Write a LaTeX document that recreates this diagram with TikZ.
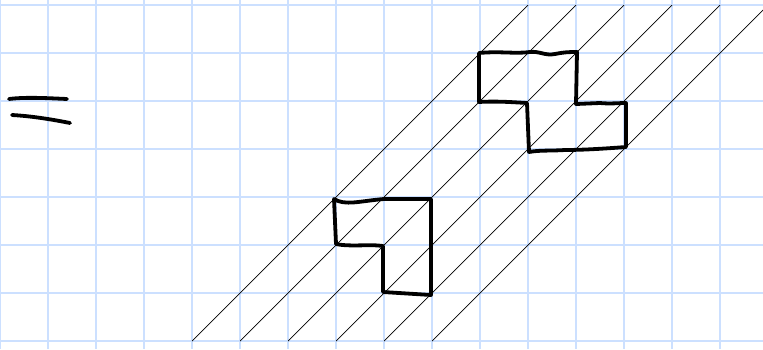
\documentclass[tikz,border=0pt]{standalone}
\definecolor{gridblue}{RGB}{204,224,255}
\begin{document}
\begin{tikzpicture}[x=1pt,y=-1pt,
  gridline/.style={draw=gridblue, line width=2pt},
  hatch/.style={draw=black, line width=0.7pt},
  ink/.style={draw=black, line width=3.8pt, line cap=round, line join=round}]
\useasboundingbox (0,0) rectangle (763,349);
\fill[white] (0,0) rectangle (763,349);
\begin{scope}
  \clip (0,0) rectangle (763,349);
  \foreach \x in {0,48,...,720} \draw[gridline] (\x,0) -- (\x,349);
  \foreach \y in {5,53,...,341} \draw[gridline] (0,\y) -- (763,\y);
  \foreach \x in {192,240,...,432} \draw[hatch] (\x,341) -- ++(336,-336);
\end{scope}
% equals sign
\draw[ink] (9,99) .. controls (25,97) and (45,98) .. (67,99);
\draw[ink] (12,115) .. controls (30,116) and (50,119) .. (70,123);
% lower L shape
\draw[ink] (334,199) .. controls (345,206) and (360,201) .. (384,199) -- (428,199)
  -- (431,199) -- (431,295) -- (383,292) -- (383,246)
  .. controls (370,244) and (350,247) .. (336,244) -- cycle;
% upper shape
\draw[ink] (479,53) .. controls (500,51) and (515,54) .. (530,52)
  .. controls (540,51) and (545,56) .. (555,54)
  .. controls (565,52) and (570,52) .. (577,52)
  -- (576,104) -- (600,103) .. controls (610,104) and (618,103) .. (626,103)
  -- (626,147) .. controls (600,149) and (580,150) .. (565,150)
  .. controls (550,151) and (540,150) .. (529,152)
  -- (527,103) .. controls (510,102) and (495,101) .. (479,102) -- cycle;
\end{tikzpicture}
\end{document}
